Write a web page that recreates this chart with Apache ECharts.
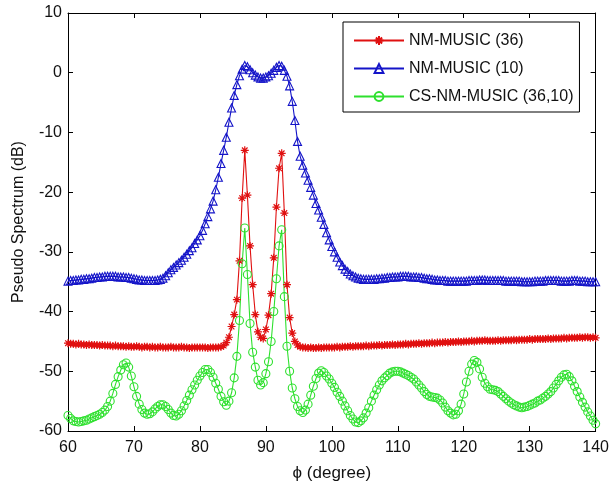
<!DOCTYPE html>
<html>
<head>
<meta charset="utf-8">
<script src="https://cdn.jsdelivr.net/npm/echarts@6/dist/echarts.min.js"></script>
<style>
  html, body { margin: 0; padding: 0; background: #fff; }
  #chart { width: 612px; height: 487px; }
</style>
</head>
<body>
<div id="chart"></div>
<script>
// Scan angle grid: 60° to 140° in 0.4° steps (201 samples)
const PHI_START = 60, PHI_STEP = 0.4, PHI_COUNT = 201;
const phi = [];
for (let i = 0; i < PHI_COUNT; i++) phi.push(+(PHI_START + PHI_STEP * i).toFixed(1));

const xTicks = { min: 60, max: 140, interval: 10 };
const yTicks = { min: -60, max: 10, interval: 10 };

const seriesNames = ['NM-MUSIC (36)', 'NM-MUSIC (10)', 'CS-NM-MUSIC (36,10)'];

// Pseudo spectrum, dB — one row per 4°
const nm36 = [
  -45.3,-45.4,-45.4,-45.5,-45.4,-45.5,-45.5,-45.6,-45.5,-45.6,
  -45.6,-45.6,-45.7,-45.6,-45.7,-45.7,-45.7,-45.8,-45.7,-45.8,
  -45.8,-45.8,-45.9,-45.8,-45.9,-45.9,-45.8,-45.9,-46.0,-45.9,
  -45.9,-46.0,-45.9,-46.0,-46.0,-45.9,-46.0,-46.0,-46.0,-45.9,
  -46.0,-46.0,-46.0,-45.9,-46.0,-46.0,-46.1,-46.0,-46.0,-46.0,
  -46.0,-46.0,-46.0,-46.1,-46.0,-46.0,-46.0,-46.0,-45.9,-45.7,
  -45.2,-44.3,-42.5,-40.5,-38.0,-31.5,-21.0,-13.0,-20.5,-29.0,
  -35.5,-40.5,-43.4,-44.3,-44.5,-43.0,-40.6,-37.0,-31.0,-22.5,
  -16.0,-13.5,-23.5,-35.5,-41.0,-43.6,-45.0,-45.6,-45.9,-46.0,
  -46.0,-46.1,-46.0,-46.1,-46.1,-46.0,-46.1,-46.0,-46.0,-46.0,
  -46.0,-46.0,-45.9,-46.0,-45.9,-45.9,-45.9,-45.8,-45.9,-45.8,
  -45.8,-45.8,-45.8,-45.7,-45.8,-45.7,-45.7,-45.7,-45.6,-45.7,
  -45.6,-45.6,-45.6,-45.5,-45.6,-45.5,-45.5,-45.5,-45.4,-45.5,
  -45.4,-45.4,-45.4,-45.3,-45.4,-45.3,-45.3,-45.3,-45.2,-45.3,
  -45.2,-45.2,-45.2,-45.1,-45.2,-45.1,-45.1,-45.1,-45.0,-45.1,
  -45.0,-45.0,-45.0,-44.9,-45.0,-44.9,-44.9,-44.9,-44.8,-44.9,
  -44.9,-44.9,-44.9,-44.8,-44.9,-44.8,-44.8,-44.8,-44.8,-44.7,
  -44.8,-44.7,-44.7,-44.7,-44.7,-44.6,-44.7,-44.6,-44.6,-44.6,
  -44.6,-44.6,-44.5,-44.6,-44.5,-44.5,-44.5,-44.5,-44.4,-44.5,
  -44.4,-44.4,-44.4,-44.4,-44.3,-44.4,-44.3,-44.3,-44.4,-44.3,
  -44.4
];

const nm10 = [
  -34.9,-34.8,-34.8,-34.7,-34.7,-34.6,-34.6,-34.5,-34.5,-34.4,
  -34.3,-34.3,-34.2,-34.2,-34.1,-34.1,-34.1,-34.1,-34.1,-34.2,
  -34.2,-34.2,-34.3,-34.3,-34.4,-34.5,-34.6,-34.7,-34.7,-34.8,
  -34.8,-34.8,-34.8,-34.8,-34.7,-34.6,-34.4,-34.0,-33.5,-33.0,
  -32.6,-32.2,-31.8,-31.4,-30.9,-30.4,-29.8,-29.3,-28.6,-28.0,
  -27.3,-26.4,-25.3,-24.1,-22.8,-21.5,-19.6,-17.5,-15.2,-13.0,
  -10.8,-8.3,-5.9,-3.8,-2.0,-0.5,0.6,1.2,1.0,0.5,
  0.0,-0.4,-0.7,-0.9,-0.9,-0.7,-0.5,-0.1,0.4,0.9,
  1.2,1.1,0.4,-0.6,-2.2,-4.8,-8.0,-11.5,-14.0,-15.5,
  -16.8,-18.0,-19.2,-20.5,-21.9,-23.0,-24.2,-25.4,-26.8,-28.0,
  -29.1,-30.0,-30.9,-31.7,-32.3,-32.9,-33.3,-33.7,-34.0,-34.2,
  -34.4,-34.5,-34.6,-34.6,-34.6,-34.6,-34.6,-34.5,-34.5,-34.4,
  -34.4,-34.3,-34.3,-34.2,-34.2,-34.2,-34.1,-34.1,-34.1,-34.1,
  -34.2,-34.2,-34.2,-34.3,-34.3,-34.4,-34.5,-34.5,-34.6,-34.7,
  -34.7,-34.8,-34.8,-34.8,-34.9,-34.9,-34.9,-34.9,-34.9,-34.9,
  -34.9,-34.9,-34.8,-34.8,-34.8,-34.8,-34.7,-34.7,-34.7,-34.8,
  -34.8,-34.8,-34.8,-34.8,-34.8,-34.8,-34.9,-34.9,-34.9,-34.9,
  -34.9,-34.9,-35.0,-35.0,-35.0,-35.0,-35.0,-34.9,-34.9,-34.9,
  -34.9,-34.8,-34.8,-34.8,-34.8,-34.8,-34.8,-34.9,-34.9,-34.9,
  -34.9,-34.8,-34.8,-34.8,-34.9,-34.9,-34.9,-35.0,-35.0,-35.0,
  -35.0
];

const csnm = [
  -57.4,-57.9,-58.3,-58.4,-58.5,-58.4,-58.3,-58.2,-58.0,-57.8,
  -57.6,-57.4,-57.2,-56.9,-56.5,-55.9,-55.0,-53.7,-52.2,-50.9,
  -49.8,-48.9,-48.6,-49.3,-50.8,-52.6,-54.2,-55.5,-56.4,-57.0,
  -57.2,-57.1,-56.8,-56.3,-55.9,-55.6,-55.6,-55.9,-56.4,-57.0,
  -57.4,-57.5,-57.2,-56.6,-55.8,-54.9,-54.0,-53.1,-52.3,-51.5,
  -50.8,-50.2,-49.7,-49.7,-50.2,-51.0,-52.0,-53.0,-54.2,-55.1,
  -55.7,-55.0,-53.6,-51.1,-47.5,-41.5,-32.0,-26.0,-33.8,-42.0,
  -46.8,-49.3,-51.5,-52.3,-51.9,-50.4,-48.4,-45.0,-40.0,-34.5,
  -29.0,-26.3,-37.5,-45.8,-50.0,-52.8,-54.6,-55.9,-56.6,-56.9,
  -56.5,-55.5,-54.0,-52.5,-51.2,-50.3,-49.9,-50.2,-50.8,-51.3,
  -52.0,-52.7,-53.5,-54.2,-55.0,-55.8,-56.6,-57.4,-58.0,-58.5,
  -58.6,-58.3,-57.8,-57.0,-56.1,-55.0,-54.0,-53.1,-52.3,-51.6,
  -51.1,-50.7,-50.3,-50.1,-50.0,-50.0,-50.1,-50.3,-50.5,-50.7,
  -51.0,-51.3,-51.8,-52.3,-52.8,-53.4,-53.9,-54.2,-54.3,-54.4,
  -54.5,-54.8,-55.3,-56.0,-56.6,-57.0,-57.3,-57.2,-56.6,-55.5,
  -53.8,-51.8,-50.0,-48.8,-48.2,-48.5,-49.6,-51.0,-52.0,-52.6,
  -53.0,-53.1,-53.2,-53.4,-53.8,-54.2,-54.6,-55.0,-55.3,-55.6,
  -55.8,-56.0,-56.1,-56.0,-55.9,-55.7,-55.5,-55.3,-55.0,-54.8,
  -54.5,-54.2,-53.8,-53.4,-52.8,-52.2,-51.6,-51.0,-50.6,-50.5,
  -50.9,-51.6,-52.5,-53.4,-54.3,-55.2,-56.0,-56.8,-57.5,-58.2,
  -58.8
];

const FONT = '"Liberation Sans", Arial, Helvetica, sans-serif';
const ASTERISK = 'path://M5,0L5,10M0,5L10,5M1.5,1.5L8.5,8.5M8.5,1.5L1.5,8.5';

function pairs(values) {
  return values.map((v, i) => [phi[i], v]);
}

function lineSeries(name, values, color, symbol, size, bw) {
  return {
    name: name,
    type: 'line',
    data: pairs(values),
    symbol: symbol,
    symbolSize: size,
    showAllSymbol: true,
    lineStyle: { color: color, width: 1.1 },
    itemStyle: { color: 'rgba(0,0,0,0)', borderColor: color, borderWidth: bw },
    emphasis: { disabled: true },
    z: 3
  };
}

function axisCommon(pos, showLabels) {
  return {
    type: 'value',
    position: pos,
    axisLine: { show: true, onZero: false, lineStyle: { color: '#000', width: 1 } },
    axisTick: { show: true, inside: true, length: 5, lineStyle: { color: '#000' } },
    axisLabel: { show: showLabels, color: '#111', fontFamily: FONT, fontSize: 16 },
    splitLine: { show: false }
  };
}

const chart = echarts.init(document.getElementById('chart'), null, { renderer: 'canvas' });

chart.setOption({
  animation: false,
  backgroundColor: '#fff',
  grid: { left: 68, right: 14, top: 13, bottom: 56, containLabel: false },
  xAxis: [
    Object.assign(axisCommon('bottom', true), xTicks, {
      name: 'ϕ (degree)', nameLocation: 'middle', nameGap: 34,
      nameTextStyle: { color: '#111', fontFamily: FONT, fontSize: 17 },
      axisLabel: { show: true, color: '#111', fontFamily: FONT, fontSize: 16, margin: 9 }
    }),
    Object.assign(axisCommon('top', false), xTicks)
  ],
  yAxis: [
    Object.assign(axisCommon('left', true), yTicks, {
      name: 'Pseudo Spectrum (dB)', nameLocation: 'middle', nameGap: 41,
      nameTextStyle: { color: '#111', fontFamily: FONT, fontSize: 16 },
      axisLabel: { show: true, color: '#111', fontFamily: FONT, fontSize: 16, margin: 6 }
    }),
    Object.assign(axisCommon('right', false), yTicks)
  ],
  legend: {
    orient: 'vertical',
    left: 343, top: 22,
    padding: [10, 6, 7, 10],
    itemGap: 11,
    itemWidth: 50,
    itemHeight: 11,
    backgroundColor: '#fff',
    borderColor: '#000',
    borderWidth: 1,
    borderRadius: 0,
    selectedMode: false,
    textStyle: { color: '#111', fontFamily: FONT, fontSize: 16, lineHeight: 17 },
    data: seriesNames
  },
  series: [
    lineSeries(seriesNames[0], nm36, '#e01010', ASTERISK, 8, 1.2),
    lineSeries(seriesNames[1], nm10, '#1414c8', 'triangle', 8, 1.1),
    lineSeries(seriesNames[2], csnm, '#2ee02e', 'circle', 8, 1.1)
  ]
});
</script>
</body>
</html>
